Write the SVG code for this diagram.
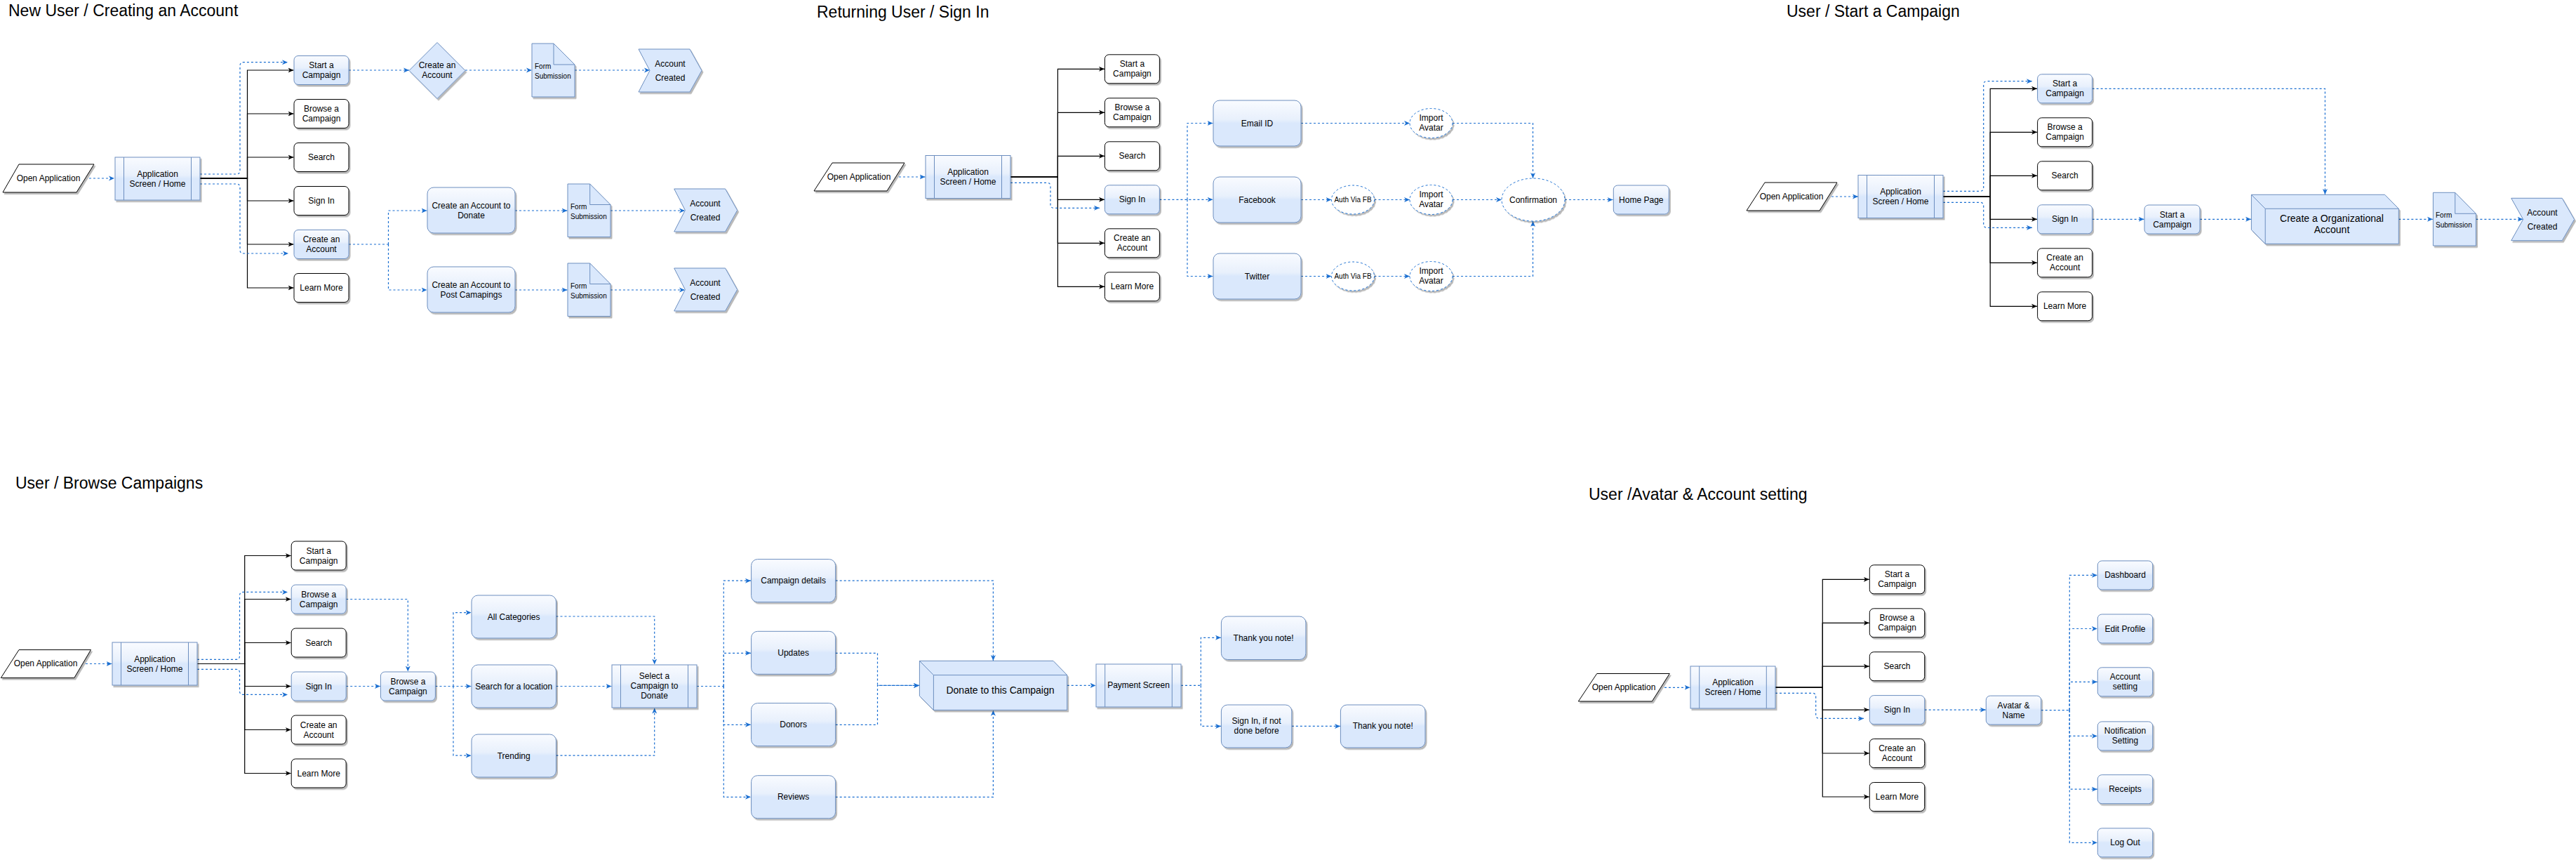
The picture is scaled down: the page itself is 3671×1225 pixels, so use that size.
<svg xmlns="http://www.w3.org/2000/svg" width="3671" height="1225" viewBox="0 0 3671 1225">
<defs>
<linearGradient id="gl" x1="0" y1="0" x2="0" y2="1">
<stop offset="0" stop-color="#f9fbff"/>
<stop offset="0.42" stop-color="#e8f0fc"/>
<stop offset="0.5" stop-color="#dae8fc"/>
<stop offset="1" stop-color="#dae8fc"/>
</linearGradient>
<filter id="sh" x="-10%" y="-10%" width="130%" height="140%">
<feDropShadow dx="2" dy="2.5" stdDeviation="0.7" flood-color="#000" flood-opacity="0.28"/>
</filter>
<marker id="ak" markerWidth="10" markerHeight="10" refX="8" refY="4" orient="auto" markerUnits="userSpaceOnUse">
<path d="M0,0.5 L8,4 L0,7.5 L2.2,4 Z" fill="#000" stroke="none"/>
</marker>
<marker id="ad" markerWidth="10" markerHeight="10" refX="8" refY="4" orient="auto" markerUnits="userSpaceOnUse">
<path d="M0,0.5 L8,4 L0,7.5 L2.2,4 Z" fill="#1b6fd1" stroke="none"/>
</marker>
</defs>
<style>
text{font-family:"Liberation Sans",Arial,Helvetica,sans-serif;font-size:12px;fill:#000;text-anchor:middle;dominant-baseline:central}
.t{font-size:23px;text-anchor:start;dominant-baseline:alphabetic}
.f{font-size:10px;text-anchor:start}
.a{font-size:10px}
.big{font-size:14px}
.w{fill:#fff;stroke:#000;stroke-width:1;filter:url(#sh)}
.b{fill:url(#gl);stroke:#6c8ebf;stroke-width:1;filter:url(#sh)}
.s{fill:#dae8fc;stroke:#6c8ebf;stroke-width:1;filter:url(#sh)}
.e{fill:#fff;stroke:#1b6fd1;stroke-width:1;stroke-dasharray:3 3;filter:url(#sh)}
.ln{fill:none;stroke:#6c8ebf;stroke-width:1}
.k{fill:none;stroke:#000;stroke-width:1.2;marker-end:url(#ak)}
.d{fill:none;stroke:#1b6fd1;stroke-width:1.2;stroke-dasharray:3 3;marker-end:url(#ad)}
.dn{fill:none;stroke:#1b6fd1;stroke-width:1.2;stroke-dasharray:3 3}
</style>
<rect width="3671" height="1225" fill="#fff"/>

<!-- Titles -->
<text class="t" x="12" y="23">New User / Creating an Account</text>
<text class="t" x="1164" y="25">Returning User / Sign In</text>
<text class="t" x="2546" y="24">User / Start a Campaign</text>
<text class="t" x="22" y="696">User / Browse Campaigns</text>
<text class="t" x="2264" y="712">User /Avatar &amp; Account setting</text>

<!-- ================= CONNECTORS ================= -->
<g id="connectors">
<!-- Section 1 -->
<path class="d" d="M127,254 H163"/>
<path class="k" d="M285,254 H352.5 V100 H418.5"/>
<path class="k" d="M285,254 H352.5 V162 H418.5"/>
<path class="k" d="M285,254 H352.5 V224 H418.5"/>
<path class="k" d="M285,254 H352.5 V286 H418.5"/>
<path class="k" d="M285,254 H352.5 V348 H418.5"/>
<path class="k" d="M285,254 H352.5 V410 H418.5"/>
<path class="d" d="M285,248 H337 Q342,248 342,243 V93.7 Q342,88.7 347,88.7 H410"/>
<path class="d" d="M285,262 H337 Q342,262 342,267 V356 Q342,361 347,361 H411"/>
<path class="d" d="M497,100 H583"/>
<path class="d" d="M663,100 H758"/>
<path class="d" d="M819,100 H926"/>
<path class="dn" d="M497,348 H553.5"/>
<path class="d" d="M553.5,348 V300 H608.5"/>
<path class="d" d="M553.5,348 V413 H608.5"/>
<path class="d" d="M734,300 H808.5"/>
<path class="d" d="M734,413 H808.5"/>
<path class="d" d="M870,300 H976"/>
<path class="d" d="M870,413 H976"/>

<!-- Section 2 -->
<path class="d" d="M1281,252 H1318.5"/>
<path class="k" d="M1440,252 H1507.4 V98.3 H1574"/>
<path class="k" d="M1440,252 H1507.4 V160.3 H1574"/>
<path class="k" d="M1440,252 H1507.4 V222.3 H1574"/>
<path class="k" d="M1440,252 H1507.4 V284.3 H1574"/>
<path class="k" d="M1440,252 H1507.4 V346.3 H1574"/>
<path class="k" d="M1440,252 H1507.4 V408.3 H1574"/>
<path class="d" d="M1440,260.3 H1492 Q1497,260.3 1497,265.3 V291.3 Q1497,296.3 1502,296.3 H1567"/>
<path class="d" d="M1652.4,284.3 H1728.5"/>
<path class="d" d="M1692,284.3 V175.5 H1728.5"/>
<path class="d" d="M1692,284.3 V393.5 H1728.5"/>
<path class="d" d="M1854,175.5 H2009"/>
<path class="d" d="M2070,175.5 H2184.5 V254"/>
<path class="d" d="M1854,284.5 H1897.5"/>
<path class="d" d="M1958.5,284.5 H2009"/>
<path class="d" d="M2070,284.5 H2140"/>
<path class="d" d="M1854,393.5 H1897.5"/>
<path class="d" d="M1958.5,393.5 H2009"/>
<path class="d" d="M2070,393.5 H2184.5 V315"/>
<path class="d" d="M2230,284.5 H2298.5"/>

<!-- Section 3 -->
<path class="d" d="M2610,280 H2648"/>
<path class="k" d="M2769,280 H2836.2 V126.3 H2903"/>
<path class="k" d="M2769,280 H2836.2 V188.3 H2903"/>
<path class="k" d="M2769,280 H2836.2 V250.3 H2903"/>
<path class="k" d="M2769,280 H2836.2 V312.3 H2903"/>
<path class="k" d="M2769,280 H2836.2 V374.3 H2903"/>
<path class="k" d="M2769,280 H2836.2 V436.3 H2903"/>
<path class="d" d="M2769,272.3 H2821.7 Q2826.7,272.3 2826.7,267.3 V120.7 Q2826.7,115.7 2831.7,115.7 H2896"/>
<path class="d" d="M2769,288.3 H2821.7 Q2826.7,288.3 2826.7,293.3 V319.3 Q2826.7,324.3 2831.7,324.3 H2896"/>
<path class="d" d="M2981.6,126.3 H3313.4 V277"/>
<path class="d" d="M2981.6,312.3 H3055.5"/>
<path class="d" d="M3135,312.3 H3208"/>
<path class="d" d="M3418.3,312.3 H3467"/>
<path class="d" d="M3528.4,312.3 H3595.5"/>

<!-- Section 4 -->
<path class="d" d="M122,945.5 H159.5"/>
<path class="k" d="M281,945.5 H348.7 V791.5 H414.7"/>
<path class="k" d="M281,945.5 H348.7 V853.5 H414.7"/>
<path class="k" d="M281,945.5 H348.7 V915.5 H414.7"/>
<path class="k" d="M281,945.5 H348.7 V977.5 H414.7"/>
<path class="k" d="M281,945.5 H348.7 V1039.5 H414.7"/>
<path class="k" d="M281,945.5 H348.7 V1101.5 H414.7"/>
<path class="d" d="M281,939.3 H336.5 Q341.5,939.3 341.5,934.3 V848.4 Q341.5,843.4 346.5,843.4 H410"/>
<path class="d" d="M281,953.3 H336.5 Q341.5,953.3 341.5,958.3 V984.4 Q341.5,989.4 346.5,989.4 H410"/>
<path class="d" d="M493.2,853.5 H581.3 V956.5"/>
<path class="d" d="M493.2,977.5 H542"/>
<path class="d" d="M620.5,977.5 H671.5"/>
<path class="d" d="M646,977.5 V872.6 H671.5"/>
<path class="d" d="M646,977.5 V1076.2 H671.5"/>
<path class="d" d="M792.5,878 H932.7 V946.5"/>
<path class="d" d="M792.5,977.5 H871.5"/>
<path class="d" d="M792.5,1076.2 H932.7 V1008.5"/>
<path class="dn" d="M993,977.5 H1031.3"/>
<path class="d" d="M1031.3,977.5 V827.2 H1070"/>
<path class="d" d="M1031.3,977.5 V930.3 H1070"/>
<path class="d" d="M1031.3,977.5 V1032.3 H1070"/>
<path class="d" d="M1031.3,977.5 V1135.3 H1070"/>
<path class="d" d="M1190.7,827.2 H1415.4 V941"/>
<path class="d" d="M1190.7,930.3 H1250.5 V976.4 H1310"/>
<path class="d" d="M1190.7,1032.3 H1250.5 V976.4 H1310"/>
<path class="d" d="M1190.7,1135.3 H1415.4 V1011.8"/>
<path class="d" d="M1520.7,976.4 H1561.5"/>
<path class="dn" d="M1683,976.4 H1711.3"/>
<path class="d" d="M1711.3,976.4 V908.3 H1740"/>
<path class="d" d="M1711.3,976.4 V1034.4 H1740"/>
<path class="d" d="M1840.8,1034.4 H1910"/>

<!-- Section 5 -->
<path class="d" d="M2372,979.3 H2408.5"/>
<path class="k" d="M2530,979.3 H2597.3 V825.3 H2663.8"/>
<path class="k" d="M2530,979.3 H2597.3 V887.3 H2663.8"/>
<path class="k" d="M2530,979.3 H2597.3 V949.2 H2663.8"/>
<path class="k" d="M2530,979.3 H2597.3 V1011.1 H2663.8"/>
<path class="k" d="M2530,979.3 H2597.3 V1073 H2663.8"/>
<path class="k" d="M2530,979.3 H2597.3 V1135 H2663.8"/>
<path class="d" d="M2530,987.3 H2582.7 Q2587.7,987.3 2587.7,992.3 V1018.4 Q2587.7,1023.4 2592.7,1023.4 H2656"/>
<path class="d" d="M2742.7,1011.1 H2829.8"/>
<path class="dn" d="M2908.7,1011.6 H2949.3"/>
<path class="d" d="M2949.3,1011.6 V819.4 H2988.8"/>
<path class="d" d="M2949.3,1011.6 V895.5 H2988.8"/>
<path class="d" d="M2949.3,1011.6 V971.3 H2988.8"/>
<path class="d" d="M2949.3,1011.6 V1048.4 H2988.8"/>
<path class="d" d="M2949.3,1011.6 V1124.2 H2988.8"/>
<path class="d" d="M2949.3,1011.6 V1200.3 H2988.8"/>
</g>

<!-- ================= SECTION 1 NODES ================= -->
<g id="s1-open"><polygon class="w" points="27,234 134,234 109,274 4,274"/><text x="69" y="254">Open Application</text></g>
<g id="s1-app"><rect class="b" x="164" y="224" width="121" height="61"/><path class="ln" d="M176.5,224 V285 M272.5,224 V285"/><text x="224.5" y="247.5">Application</text><text x="224.5" y="261.5">Screen / Home</text></g>
<g id="s1-start"><rect class="b" x="419" y="79.5" width="78" height="41" rx="6"/><text x="458" y="93">Start a</text><text x="458" y="107">Campaign</text></g>
<g id="s1-browse"><rect class="w" x="419" y="141.5" width="78" height="41" rx="6"/><text x="458" y="155">Browse a</text><text x="458" y="169">Campaign</text></g>
<g id="s1-search"><rect class="w" x="419" y="203.5" width="78" height="41" rx="6"/><text x="458" y="224">Search</text></g>
<g id="s1-signin"><rect class="w" x="419" y="265.5" width="78" height="41" rx="6"/><text x="458" y="286">Sign In</text></g>
<g id="s1-create"><rect class="b" x="419" y="327.5" width="78" height="41" rx="6"/><text x="458" y="341">Create an</text><text x="458" y="355">Account</text></g>
<g id="s1-learn"><rect class="w" x="419" y="389.5" width="78" height="41" rx="6"/><text x="458" y="410">Learn More</text></g>
<g id="s1-diamond"><polygon class="s" points="623,60.5 663,100.5 623,140.5 583,100.5"/><text x="623" y="93">Create an</text><text x="623" y="107">Account</text></g>
<g id="s1-form1"><path class="s" d="M758,62 H789 L819,92 V138 H758 Z"/><path class="ln" d="M789,62 V92 H819"/><text class="f" x="762" y="94">Form</text><text class="f" x="762" y="108">Submission</text></g>
<g id="s1-created1"><polygon class="s" points="910,70 983,70 1000,100.5 983,131 910,131 926,100.5"/><text x="955" y="90.7">Account</text><text x="955" y="110.7">Created</text></g>
<g id="s1-donate"><rect class="b" x="609" y="267" width="125" height="65" rx="9"/><text x="671.5" y="292.5">Create an Account to</text><text x="671.5" y="306.5">Donate</text></g>
<g id="s1-post"><rect class="b" x="609" y="380" width="125" height="65" rx="9"/><text x="671.5" y="405.5">Create an Account to</text><text x="671.5" y="419.5">Post Camapings</text></g>
<g id="s1-form2"><path class="s" d="M809,262 H840.7 L870,291.5 V337.5 H809 Z"/><path class="ln" d="M840.7,262 V291.5 H870"/><text class="f" x="813" y="294">Form</text><text class="f" x="813" y="308">Submission</text></g>
<g id="s1-form3"><path class="s" d="M809,375 H840.7 L870,404.5 V450.5 H809 Z"/><path class="ln" d="M840.7,375 V404.5 H870"/><text class="f" x="813" y="407">Form</text><text class="f" x="813" y="421">Submission</text></g>
<g id="s1-created2"><polygon class="s" points="960.7,269 1033.6,269 1050.7,299.5 1033.6,330 960.7,330 976.4,299.5"/><text x="1005" y="289.7">Account</text><text x="1005" y="309.7">Created</text></g>
<g id="s1-created3"><polygon class="s" points="960.7,382 1033.6,382 1050.7,412.5 1033.6,443 960.7,443 976.4,412.5"/><text x="1005" y="402.7">Account</text><text x="1005" y="422.7">Created</text></g>

<!-- ================= SECTION 2 NODES ================= -->
<g id="s2-open"><polygon class="w" points="1186,232 1289,232 1264,272 1160,272"/><text x="1224" y="252">Open Application</text></g>
<g id="s2-app"><rect class="b" x="1319" y="221.5" width="121" height="61"/><path class="ln" d="M1331.5,221.5 V282.5 M1427.5,221.5 V282.5"/><text x="1379.5" y="245">Application</text><text x="1379.5" y="259">Screen / Home</text></g>
<g id="s2-start"><rect class="w" x="1574.4" y="77.8" width="78" height="41" rx="6"/><text x="1613.4" y="91.3">Start a</text><text x="1613.4" y="105.3">Campaign</text></g>
<g id="s2-browse"><rect class="w" x="1574.4" y="139.8" width="78" height="41" rx="6"/><text x="1613.4" y="153.3">Browse a</text><text x="1613.4" y="167.3">Campaign</text></g>
<g id="s2-search"><rect class="w" x="1574.4" y="201.8" width="78" height="41" rx="6"/><text x="1613.4" y="222.3">Search</text></g>
<g id="s2-signin"><rect class="b" x="1574.4" y="263.8" width="78" height="41" rx="6"/><text x="1613.4" y="284.3">Sign In</text></g>
<g id="s2-create"><rect class="w" x="1574.4" y="325.8" width="78" height="41" rx="6"/><text x="1613.4" y="339.3">Create an</text><text x="1613.4" y="353.3">Account</text></g>
<g id="s2-learn"><rect class="w" x="1574.4" y="387.8" width="78" height="41" rx="6"/><text x="1613.4" y="408.3">Learn More</text></g>
<g id="s2-email"><rect class="b" x="1729" y="143" width="125" height="65" rx="9"/><text x="1791.5" y="175.5">Email ID</text></g>
<g id="s2-facebook"><rect class="b" x="1729" y="252" width="125" height="65" rx="9"/><text x="1791.5" y="284.5">Facebook</text></g>
<g id="s2-twitter"><rect class="b" x="1729" y="361" width="125" height="65" rx="9"/><text x="1791.5" y="393.5">Twitter</text></g>
<g id="s2-auth1"><ellipse class="e" cx="1928" cy="284.5" rx="30.5" ry="20.5"/><text class="a" x="1928" y="284.5">Auth Via FB</text></g>
<g id="s2-auth2"><ellipse class="e" cx="1928" cy="393.5" rx="30.5" ry="20.5"/><text class="a" x="1928" y="393.5">Auth Via FB</text></g>
<g id="s2-import1"><ellipse class="e" cx="2039.5" cy="175.5" rx="30.5" ry="21"/><text x="2039.5" y="168">Import</text><text x="2039.5" y="182">Avatar</text></g>
<g id="s2-import2"><ellipse class="e" cx="2039.5" cy="284.5" rx="30.5" ry="21"/><text x="2039.5" y="277">Import</text><text x="2039.5" y="291">Avatar</text></g>
<g id="s2-import3"><ellipse class="e" cx="2039.5" cy="393.5" rx="30.5" ry="21"/><text x="2039.5" y="386">Import</text><text x="2039.5" y="400">Avatar</text></g>
<g id="s2-confirm"><ellipse class="e" cx="2185" cy="284.5" rx="45" ry="30.5"/><text x="2185" y="284.5">Confirmation</text></g>
<g id="s2-home"><rect class="b" x="2299.3" y="264" width="79" height="41" rx="6"/><text x="2338.8" y="284.5">Home Page</text></g>

<!-- ================= SECTION 3 NODES ================= -->
<g id="s3-open"><polygon class="w" points="2515,260 2618,260 2593,300 2489,300"/><text x="2553" y="280">Open Application</text></g>
<g id="s3-app"><rect class="b" x="2648" y="249.5" width="121" height="61"/><path class="ln" d="M2660.5,249.5 V310.5 M2756.5,249.5 V310.5"/><text x="2708.5" y="273">Application</text><text x="2708.5" y="287">Screen / Home</text></g>
<g id="s3-start"><rect class="b" x="2903.6" y="105.8" width="78" height="41" rx="6"/><text x="2942.6" y="119.3">Start a</text><text x="2942.6" y="133.3">Campaign</text></g>
<g id="s3-browse"><rect class="w" x="2903.6" y="167.8" width="78" height="41" rx="6"/><text x="2942.6" y="181.3">Browse a</text><text x="2942.6" y="195.3">Campaign</text></g>
<g id="s3-search"><rect class="w" x="2903.6" y="229.8" width="78" height="41" rx="6"/><text x="2942.6" y="250.3">Search</text></g>
<g id="s3-signin"><rect class="b" x="2903.6" y="291.8" width="78" height="41" rx="6"/><text x="2942.6" y="312.3">Sign In</text></g>
<g id="s3-create"><rect class="w" x="2903.6" y="353.8" width="78" height="41" rx="6"/><text x="2942.6" y="367.3">Create an</text><text x="2942.6" y="381.3">Account</text></g>
<g id="s3-learn"><rect class="w" x="2903.6" y="415.8" width="78" height="41" rx="6"/><text x="2942.6" y="436.3">Learn More</text></g>
<g id="s3-start2"><rect class="b" x="3056" y="292" width="79" height="41" rx="6"/><text x="3095.5" y="305.5">Start a</text><text x="3095.5" y="319.5">Campaign</text></g>
<g id="s3-org"><path class="s" d="M3208.4,277.3 H3398.5 L3418.3,297.3 V347.3 H3228.2 L3208.4,327.3 Z"/><path class="ln" d="M3208.4,277.3 L3228.2,297.3 H3418.3 M3228.2,297.3 V347.3"/><text class="big" x="3323" y="311.3">Create a Organizational</text><text class="big" x="3323" y="327.3">Account</text></g>
<g id="s3-form"><path class="s" d="M3467.4,274.3 H3498.7 L3528.4,304.3 V350 H3467.4 Z"/><path class="ln" d="M3498.7,274.3 V304.3 H3528.4"/><text class="f" x="3471" y="306">Form</text><text class="f" x="3471" y="320.3">Submission</text></g>
<g id="s3-created"><polygon class="s" points="3578.7,282.3 3651.2,282.3 3668.6,312.5 3651.2,342.7 3578.7,342.7 3595.7,312.5"/><text x="3623" y="302.7">Account</text><text x="3623" y="322.7">Created</text></g>

<!-- ================= SECTION 4 NODES ================= -->
<g id="s4-open"><polygon class="w" points="27,925.6 129.5,925.6 105.8,965.6 1.3,965.6"/><text x="65" y="945.3">Open Application</text></g>
<g id="s4-app"><rect class="b" x="160" y="915" width="121" height="61"/><path class="ln" d="M172.5,915 V976 M268.5,915 V976"/><text x="220.5" y="938.5">Application</text><text x="220.5" y="952.5">Screen / Home</text></g>
<g id="s4-start"><rect class="w" x="415.2" y="771" width="78" height="41" rx="6"/><text x="454.2" y="784.5">Start a</text><text x="454.2" y="798.5">Campaign</text></g>
<g id="s4-browse"><rect class="b" x="415.2" y="833" width="78" height="41" rx="6"/><text x="454.2" y="846.5">Browse a</text><text x="454.2" y="860.5">Campaign</text></g>
<g id="s4-search"><rect class="w" x="415.2" y="895" width="78" height="41" rx="6"/><text x="454.2" y="915.5">Search</text></g>
<g id="s4-signin"><rect class="b" x="415.2" y="957" width="78" height="41" rx="6"/><text x="454.2" y="977.5">Sign In</text></g>
<g id="s4-create"><rect class="w" x="415.2" y="1019" width="78" height="41" rx="6"/><text x="454.2" y="1032.5">Create an</text><text x="454.2" y="1046.5">Account</text></g>
<g id="s4-learn"><rect class="w" x="415.2" y="1081" width="78" height="41" rx="6"/><text x="454.2" y="1101.5">Learn More</text></g>
<g id="s4-browse2"><rect class="b" x="542.4" y="957" width="78" height="41" rx="6"/><text x="581.4" y="970.5">Browse a</text><text x="581.4" y="984.5">Campaign</text></g>
<g id="s4-allcat"><rect class="b" x="672" y="848" width="120.5" height="61" rx="9"/><text x="732.2" y="878.5">All Categories</text></g>
<g id="s4-location"><rect class="b" x="672" y="947" width="120.5" height="61" rx="9"/><text x="732.2" y="977.5">Search for a location</text></g>
<g id="s4-trending"><rect class="b" x="672" y="1046" width="120.5" height="61" rx="9"/><text x="732.2" y="1076.5">Trending</text></g>
<g id="s4-select"><rect class="b" x="872" y="947" width="121" height="61"/><path class="ln" d="M884.5,947 V1008 M980.5,947 V1008"/><text x="932.5" y="963">Select a</text><text x="932.5" y="977">Campaign to</text><text x="932.5" y="991">Donate</text></g>
<g id="s4-details"><rect class="b" x="1070.6" y="796.6" width="120" height="61" rx="9"/><text x="1130.6" y="827.1">Campaign details</text></g>
<g id="s4-updates"><rect class="b" x="1070.6" y="899.3" width="120" height="61" rx="9"/><text x="1130.6" y="929.8">Updates</text></g>
<g id="s4-donors"><rect class="b" x="1070.6" y="1001.6" width="120" height="61" rx="9"/><text x="1130.6" y="1032.1">Donors</text></g>
<g id="s4-reviews"><rect class="b" x="1070.6" y="1104.7" width="120" height="61" rx="9"/><text x="1130.6" y="1135.2">Reviews</text></g>
<g id="s4-donate"><path class="s" d="M1310.4,941.4 H1501 L1520.7,961.6 V1011.4 H1330.4 L1310.4,991.4 Z"/><path class="ln" d="M1310.4,941.4 L1330.4,961.6 H1520.7 M1330.4,961.6 V1011.4"/><text class="big" x="1425.5" y="983">Donate to this Campaign</text></g>
<g id="s4-payment"><rect class="b" x="1562" y="946" width="121" height="61"/><path class="ln" d="M1574.7,946 V1007 M1670.3,946 V1007"/><text x="1622.5" y="976">Payment Screen</text></g>
<g id="s4-thanks1"><rect class="b" x="1740.4" y="878" width="120.5" height="61.5" rx="9"/><text x="1800.6" y="908.7">Thank you note!</text></g>
<g id="s4-signin2"><rect class="b" x="1740.4" y="1004" width="100.4" height="61" rx="9"/><text x="1790.6" y="1027.2">Sign In, if not</text><text x="1790.6" y="1041.2">done before</text></g>
<g id="s4-thanks2"><rect class="b" x="1910.4" y="1004" width="120.6" height="61" rx="9"/><text x="1970.7" y="1034.4">Thank you note!</text></g>

<!-- ================= SECTION 5 NODES ================= -->
<g id="s5-open"><polygon class="w" points="2275.7,959.5 2379.3,959.5 2354.3,999 2249.3,999"/><text x="2314" y="979">Open Application</text></g>
<g id="s5-app"><rect class="b" x="2409" y="949" width="121" height="60"/><path class="ln" d="M2421.7,949 V1009 M2517.3,949 V1009"/><text x="2469.5" y="972">Application</text><text x="2469.5" y="986">Screen / Home</text></g>
<g id="s5-start"><rect class="w" x="2664.3" y="804.8" width="78.4" height="41" rx="6"/><text x="2703.5" y="818.3">Start a</text><text x="2703.5" y="832.3">Campaign</text></g>
<g id="s5-browse"><rect class="w" x="2664.3" y="866.8" width="78.4" height="41" rx="6"/><text x="2703.5" y="880.3">Browse a</text><text x="2703.5" y="894.3">Campaign</text></g>
<g id="s5-search"><rect class="w" x="2664.3" y="928.7" width="78.4" height="41" rx="6"/><text x="2703.5" y="949.2">Search</text></g>
<g id="s5-signin"><rect class="b" x="2664.3" y="990.6" width="78.4" height="41" rx="6"/><text x="2703.5" y="1011.1">Sign In</text></g>
<g id="s5-create"><rect class="w" x="2664.3" y="1052.5" width="78.4" height="41" rx="6"/><text x="2703.5" y="1066">Create an</text><text x="2703.5" y="1080">Account</text></g>
<g id="s5-learn"><rect class="w" x="2664.3" y="1114.5" width="78.4" height="41" rx="6"/><text x="2703.5" y="1135">Learn More</text></g>
<g id="s5-avatar"><rect class="b" x="2830.3" y="991.1" width="78.4" height="41" rx="6"/><text x="2869.5" y="1004.6">Avatar &amp;</text><text x="2869.5" y="1018.6">Name</text></g>
<g id="s5-dashboard"><rect class="b" x="2989.3" y="798.9" width="78.4" height="41" rx="6"/><text x="3028.5" y="819.4">Dashboard</text></g>
<g id="s5-edit"><rect class="b" x="2989.3" y="875" width="78.4" height="41" rx="6"/><text x="3028.5" y="895.5">Edit Profile</text></g>
<g id="s5-account"><rect class="b" x="2989.3" y="950.8" width="78.4" height="41" rx="6"/><text x="3028.5" y="964.3">Account</text><text x="3028.5" y="978.3">setting</text></g>
<g id="s5-notification"><rect class="b" x="2989.3" y="1027.9" width="78.4" height="41" rx="6"/><text x="3028.5" y="1041.4">Notification</text><text x="3028.5" y="1055.4">Setting</text></g>
<g id="s5-receipts"><rect class="b" x="2989.3" y="1103.7" width="78.4" height="41" rx="6"/><text x="3028.5" y="1124.2">Receipts</text></g>
<g id="s5-logout"><rect class="b" x="2989.3" y="1179.8" width="78.4" height="41" rx="6"/><text x="3028.5" y="1200.3">Log Out</text></g>
</svg>
